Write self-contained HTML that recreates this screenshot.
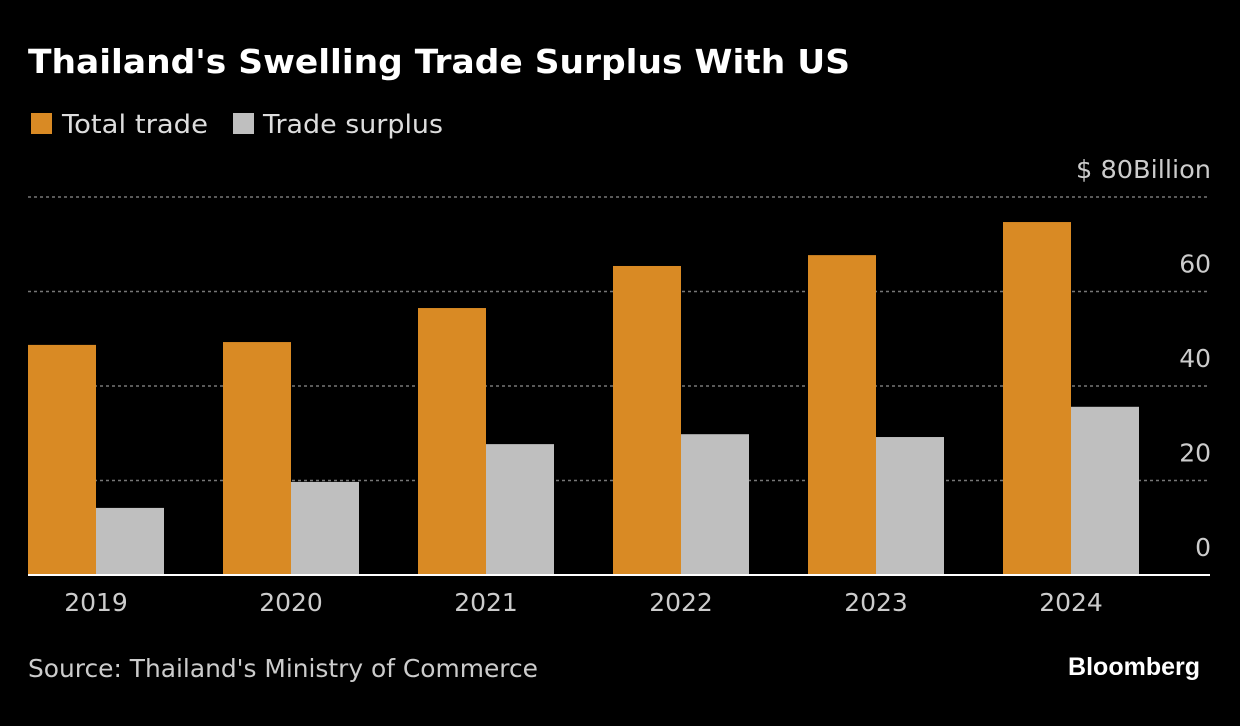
<!DOCTYPE html>
<html><head><meta charset="utf-8">
<style>
body{margin:0;background:#000;width:1240px;height:726px;overflow:hidden;font-family:"DejaVu Sans","Liberation Sans",sans-serif;color:#fff}
svg{position:absolute;left:0;top:0}
</style></head>
<body>
<svg width="1240" height="726">
<text x="28" y="73" font-size="33" font-weight="bold" fill="#fff" textLength="822" lengthAdjust="spacingAndGlyphs">Thailand's Swelling Trade Surplus With US</text>
<g>
<rect x="31" y="113" width="21" height="21" fill="#d98a24"/>
<text x="62" y="133" font-size="26" fill="#ddd" textLength="146" lengthAdjust="spacingAndGlyphs">Total trade</text>
<rect x="233" y="113" width="21" height="21" fill="#bfbfbf"/>
<text x="263" y="133" font-size="26" fill="#ddd" textLength="180" lengthAdjust="spacingAndGlyphs">Trade surplus</text>
</g>
<g id="grid"></g>
<g id="bars"></g>
<g id="labels"></g>
<text x="28" y="677" font-size="25" fill="#ccc" textLength="510" lengthAdjust="spacingAndGlyphs">Source: Thailand's Ministry of Commerce</text>
<text x="1200" y="675" font-size="25" font-weight="bold" fill="#fff" text-anchor="end" font-family="Liberation Sans, sans-serif">Bloomberg</text>
</svg>
<script>
const years=["2019","2020","2021","2022","2023","2024"];
const totalTrade=[48.7,49.3,56.5,65.4,67.7,74.7];
const tradeSurplus=[14.2,19.7,27.7,29.8,29.2,35.6];
const ticks=[0,20,40,60,80];
const tickLabels=["0","20","40","60","$ 80Billion"];
const ns="http://www.w3.org/2000/svg";
const y0=575,pxPer=(575-197)/80;
const y=v=>y0-v*pxPer;
const gx=i=>28+i*195;
const bw=68;
function mk(t,a,p){const e=document.createElementNS(ns,t);for(const k in a)e.setAttribute(k,a[k]);p.appendChild(e);return e;}
const grid=document.getElementById('grid'),bars=document.getElementById('bars'),labels=document.getElementById('labels');
ticks.forEach((t,i)=>{
 if(t>0){const l=mk('line',{x1:28,x2:1210,y1:y(t),y2:y(t),stroke:'#777','stroke-width':1.5,'stroke-dasharray':'3,3'},grid);
 
 }
 const tx=mk('text',{x:1211,y:y(t)-19,'font-size':25,fill:'#ccc','text-anchor':'end'},labels);
 if(t==80){tx.setAttribute('textLength',135);tx.setAttribute('lengthAdjust','spacingAndGlyphs');}
 tx.textContent=tickLabels[i];
 
 
});
years.forEach((yr,i)=>{
 const a=mk('rect',{x:gx(i),y:y(totalTrade[i]),width:bw,height:y0-y(totalTrade[i]),fill:'#d98a24'},bars);
 
 
 const b=mk('rect',{x:gx(i)+bw,y:y(tradeSurplus[i]),width:bw,height:y0-y(tradeSurplus[i]),fill:'#bfbfbf'},bars);
 
 
 const t=mk('text',{x:gx(i)+bw,y:611,'font-size':25,fill:'#ccc','text-anchor':'middle'},labels);
 t.textContent=yr;
 
 
});
const ax=mk('line',{x1:28,x2:1210,y1:y0,y2:y0,stroke:'#fff','stroke-width':2},bars);


</script>
</body></html>
